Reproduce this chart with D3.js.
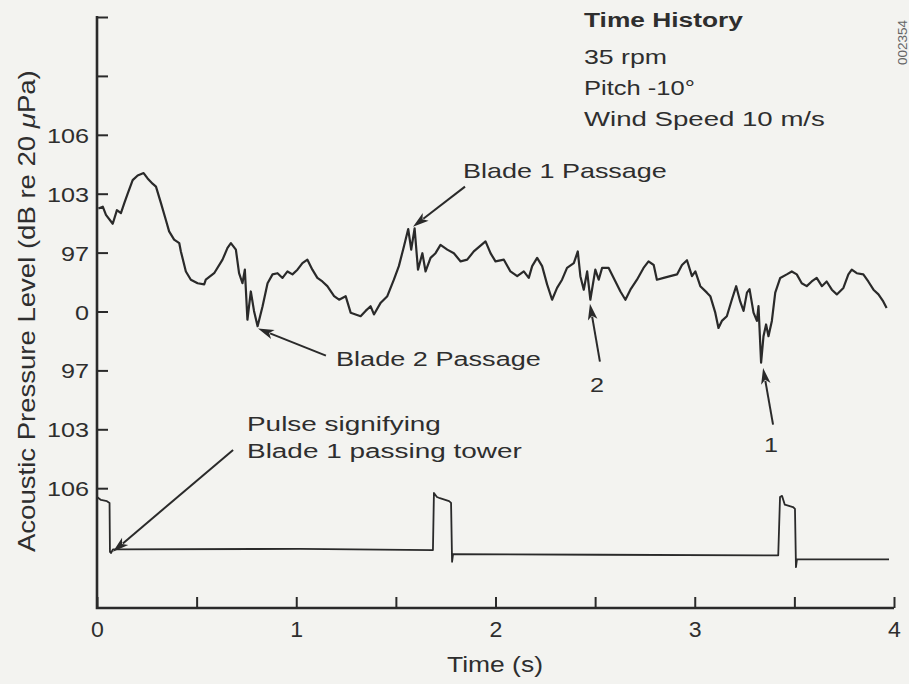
<!DOCTYPE html>
<html><head><meta charset="utf-8">
<script src="https://cdn.jsdelivr.net/npm/d3@7"></script>
<style>
html,body{margin:0;padding:0;background:#f3f3f0;}
svg{display:block;}
text{font-family:"Liberation Sans", Arial, Helvetica, sans-serif; fill:#2e2e2e;}
</style></head><body>
<svg id="c" width="909" height="684"></svg>
<script>
// ---- data (time in s, level in axis units) ----
const time = [0.007,0.029,0.045,0.079,0.100,0.120,0.137,0.154,0.179,0.204,0.234,0.254,0.279,0.296,0.321,0.346,0.362,0.387,0.413,0.421,0.446,0.471,0.505,0.538,0.546,0.588,0.630,0.655,0.672,0.697,0.713,0.730,0.742,0.755,0.772,0.788,0.806,0.831,0.856,0.881,0.906,0.931,0.956,0.981,1.006,1.031,1.056,1.081,1.106,1.131,1.156,1.190,1.215,1.248,1.273,1.298,1.323,1.348,1.373,
1.390,1.424,1.457,1.490,1.515,1.540,1.562,1.577,1.594,1.611,1.633,1.649,1.674,1.699,1.724,1.758,1.791,1.825,1.858,1.891,1.950,1.975,2.000,2.042,2.075,2.109,2.142,2.167,2.184,2.209,2.234,2.259,2.284,2.309,2.334,2.359,2.393,2.413,2.426,2.443,2.460,2.476,2.501,2.518,2.535,2.568,2.602,2.627,2.652,2.677,
2.710,2.743,2.768,2.794,2.810,2.844,2.877,2.911,2.936,2.961,2.986,3.003,3.028,3.061,3.078,3.103,3.119,3.136,3.161,3.186,3.208,3.228,3.245,3.262,3.275,3.295,3.312,3.320,3.333,3.345,3.358,3.370,3.387,3.404,3.429,3.462,3.487,3.512,3.537,3.562,3.587,3.612,3.638,3.662,3.688,3.713,3.746,3.771,3.788,3.813,3.846,3.871,3.897,3.922,3.946,3.963];
const level = [6.75,6.78,6.64,6.49,6.72,6.67,6.84,7.00,7.23,7.31,7.35,7.26,7.17,7.12,6.84,6.55,6.36,6.22,6.16,6.02,5.68,5.54,5.48,5.46,5.54,5.65,5.88,6.08,6.16,6.05,5.65,5.48,5.71,4.86,5.34,5.01,4.75,5.09,5.48,5.63,5.65,5.57,5.68,5.63,5.71,5.82,5.88,5.71,5.57,5.51,5.43,5.26,5.20,5.26,4.98,4.95,4.92,5.01,5.09,
4.95,5.15,5.26,5.54,5.77,6.10,6.40,6.05,6.41,5.71,5.99,5.68,5.91,5.99,6.13,6.05,5.99,5.85,5.88,6.02,6.19,5.99,5.85,5.88,5.68,5.60,5.68,5.57,5.77,5.91,5.77,5.46,5.20,5.40,5.54,5.74,5.82,6.02,5.60,5.37,5.68,5.20,5.71,5.54,5.74,5.74,5.51,5.34,5.20,5.37,
5.54,5.74,5.85,5.79,5.54,5.57,5.60,5.63,5.79,5.87,5.60,5.68,5.43,5.32,5.26,4.98,4.72,4.84,4.92,5.20,5.43,5.17,5.01,5.32,5.38,4.98,4.84,5.09,4.13,4.58,4.78,4.58,4.84,5.32,5.57,5.63,5.68,5.63,5.48,5.43,5.51,5.57,5.43,5.51,5.37,5.29,5.40,5.63,5.71,5.65,5.63,5.51,5.37,5.29,5.17,5.06];

const pulseTime  = [0.000,0.020,0.050,0.063,0.065,0.070,0.080,1.019,1.686,1.691,1.706,1.721,1.767,1.777,1.782,1.787,2.524,3.419,3.428,3.438,3.452,3.493,3.503,3.508,3.513,3.975];
const pulseLevel = [1.85,1.80,1.78,1.75,0.92,0.90,0.96,0.97,0.95,1.92,1.85,1.83,1.78,1.75,0.75,0.88,0.87,0.86,1.85,1.87,1.72,1.68,1.65,0.66,0.79,0.79];

const xTicks = [0,0.5,1,1.5,2,2.5,3,3.5,4];
const xTickLabels = ["0","","1","","2","","3","","4"];
const yTicks = [2,3,4,5,6,7,8,9,10];
const yTickLabels = ["106","103","97","0","97","103","106","",""];

const infoTitle = "Time History";
const infoLines = ["35 rpm","Pitch -10°","Wind Speed 10 m/s"];

// ---- drawing ----
const svg = d3.select("#c");
const INK = "#2a2a2a";
const x = d3.scaleLinear().domain([0,4]).range([97,894]);
const y = d3.scaleLinear().domain([0,10]).range([606,17]);
const AXIS_Y = 608;

function addText(str, o){
  const t = svg.append("text").attr("x",0).attr("y",0)
    .style("font-size", o.size+"px").style("font-weight", o.weight||"normal");
  if (o.fill) t.style("fill", o.fill);
  if (o.parts){ o.parts.forEach(p=>{ t.append("tspan").text(p.t).style("font-style", p.italic?"italic":"normal"); }); }
  else t.text(str);
  const L = t.node().getComputedTextLength();
  const sx = o.width ? o.width/L : (o.scale||1);
  const a = o.anchor||"start";
  const off = a==="start"?0:(a==="middle"?-L*sx/2:-L*sx);
  t.attr("transform", `translate(${o.x},${o.y}) rotate(${o.rotate||0}) translate(${off},0) scale(${sx},1)`);
  return t;
}

// Y axis
const yAxis = d3.axisLeft(y).tickValues(yTicks).tickSizeInner(-11).tickSizeOuter(0).tickFormat((d,i)=>yTickLabels[i]);
const gy = svg.append("g").attr("transform",`translate(${x(0)},0)`).call(yAxis);
gy.select(".domain").remove();
gy.selectAll(".tick line").attr("stroke",INK).attr("stroke-width",2);
gy.selectAll(".tick text").attr("x",0).attr("dy","0.36em")
  .style("font-size","21px").style("fill","#2e2e2e").attr("font-family",null)
  .attr("transform","translate(-8,0) scale(1.2,1)");

// X axis
const xAxis = d3.axisBottom(x).tickValues(xTicks).tickSizeInner(-11).tickSizeOuter(0).tickFormat((d,i)=>xTickLabels[i]).tickPadding(13);
const gx = svg.append("g").attr("transform",`translate(0,${AXIS_Y})`).call(xAxis);
gx.select(".domain").remove();
gx.selectAll(".tick line").attr("stroke",INK).attr("stroke-width",2);
gx.selectAll(".tick text").style("font-size","22px").style("fill","#2e2e2e").attr("font-family",null)
  .attr("transform","scale(1.05,1)");

// axis lines
svg.append("path").attr("d",`M${x(0)},${y(10)-1}V${AXIS_Y}H${x(4)}`).attr("fill","none").attr("stroke",INK).attr("stroke-width",2.6);

// traces
const line = d3.line().x(d=>x(d[0])).y(d=>y(d[1]));
svg.append("path").datum(time.map((t,i)=>[t,level[i]])).attr("d",line)
  .attr("fill","none").attr("stroke",INK).attr("stroke-width",2.2).attr("stroke-linejoin","round");
svg.append("path").datum(pulseTime.map((t,i)=>[t,pulseLevel[i]])).attr("d",line)
  .attr("fill","none").attr("stroke",INK).attr("stroke-width",1.8).attr("stroke-linejoin","round");

// arrows (tail -> tip in data units)
function arrow(t1,l1,t2,l2){
  const x1=x(t1),y1=y(l1),x2=x(t2),y2=y(l2);
  const dx=x2-x1, dy=y2-y1, len=Math.hypot(dx,dy), ux=dx/len, uy=dy/len;
  const hl=16, hw=4.8;
  const bx=x2-ux*hl, by=y2-uy*hl;
  svg.append("line").attr("x1",x1).attr("y1",y1).attr("x2",bx+ux*3).attr("y2",by+uy*3).attr("stroke",INK).attr("stroke-width",2);
  svg.append("path").attr("d",`M${x2},${y2}L${bx-uy*hw},${by+ux*hw}L${bx+ux*4},${by+uy*4}L${bx+uy*hw},${by-ux*hw}Z`).attr("fill",INK);
}
arrow(1.847,7.12, 1.586,6.44);   // Blade 1 Passage
arrow(1.149,4.25, 0.808,4.71);   // Blade 2 Passage
arrow(2.524,4.15, 2.474,5.13);   // 2
arrow(3.393,3.08, 3.343,4.04);   // 1
arrow(0.683,2.65, 0.080,0.92);   // pulse

// annotation text
addText("Blade 1 Passage",{x:463,y:178,size:21,width:204});
addText("Blade 2 Passage",{x:336,y:366,size:21,width:205});
addText("2",{x:597,y:392,size:21,scale:1.2,anchor:"middle"});
addText("1",{x:771,y:452,size:21,scale:1.2,anchor:"middle"});
addText("Pulse signifying",{x:247,y:431,size:21,width:194});
addText("Blade 1 passing tower",{x:247,y:458,size:21,width:275});

// info block
addText(infoTitle,{x:584,y:27,size:21,width:159,weight:"bold"});
const infoW=[83,111,241], infoY=[64,95,126];
infoLines.forEach((s,i)=>addText(s,{x:584,y:infoY[i],size:21,width:infoW[i]}));

// axis titles
addText("Time (s)",{x:495,y:672,size:22,width:96,anchor:"middle"});
addText(null,{x:35,y:311,size:23,width:482,anchor:"middle",rotate:-90,
  parts:[{t:"Acoustic Pressure Level (dB re 20 "},{t:"μ",italic:true},{t:"Pa)"}]});
addText("002354",{x:906.5,y:42.5,size:13.5,anchor:"middle",rotate:-90,fill:"#666"});
</script>
</body></html>
